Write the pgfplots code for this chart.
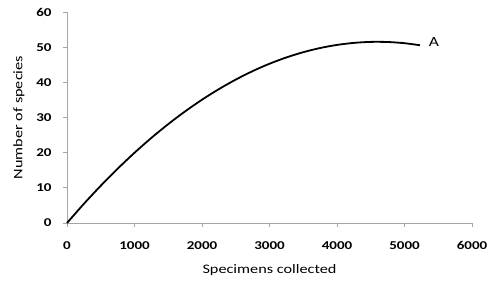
\documentclass[border=0pt]{standalone}
\usepackage{fontspec}
\setmainfont{Carlito}[FakeStretch=1.25]
\usepackage{pgfplots}
\pgfplotsset{compat=1.18}
\usetikzlibrary{calc}
\definecolor{axgray}{RGB}{165,165,165}
\begin{document}
\begin{tikzpicture}
\begin{axis}[
  scale only axis,
  width=405pt, height=211pt,
  xmin=0, xmax=6000, ymin=0, ymax=60,
  xtick={0,1000,...,6000}, ytick={0,10,...,60},
  axis x line*=bottom, axis y line*=left,
  axis line style={axgray, line width=0.8pt},
  x axis line style={-}, y axis line style={-},
  tick style={axgray, line width=0.8pt},
  tick align=outside, major tick length=4pt,
  /pgf/number format/assume math mode=true,
  /pgf/number format/1000 sep={},
  ticklabel style={font=\fontsize{12}{14}\selectfont\bfseries},
  xticklabel style={yshift=-11pt},
  yticklabel style={xshift=-8pt},
  xlabel={Specimens collected},
  ylabel={Number of species},
  label style={font=\fontsize{13}{15}\selectfont},
  xlabel style={yshift=-8pt},
  ylabel style={yshift=5pt},
  clip=false,
]
\addplot[black, line width=1.8pt, smooth] coordinates {
(0,0) (250,5.45) (500,10.59) (750,15.43) (1000,19.97) (1250,24.20)
(1500,28.12) (1750,31.74) (2000,35.06) (2250,38.07) (2500,40.78)
(2750,43.19) (3000,45.29) (3250,47.08) (3500,48.57) (3750,49.76)
(4000,50.64) (4250,51.22) (4500,51.50) (4750,51.47) (5000,51.13)
(5230,50.55)
};
\node[font=\fontsize{14}{16}\selectfont] at (axis cs:5437,51.5) {A};
\end{axis}
\pgfresetboundingbox
\path ($(current axis.south west)+(-67pt,-60pt)$) rectangle ($(current axis.north east)+(17pt,12pt)$);
\end{tikzpicture}
\end{document}
